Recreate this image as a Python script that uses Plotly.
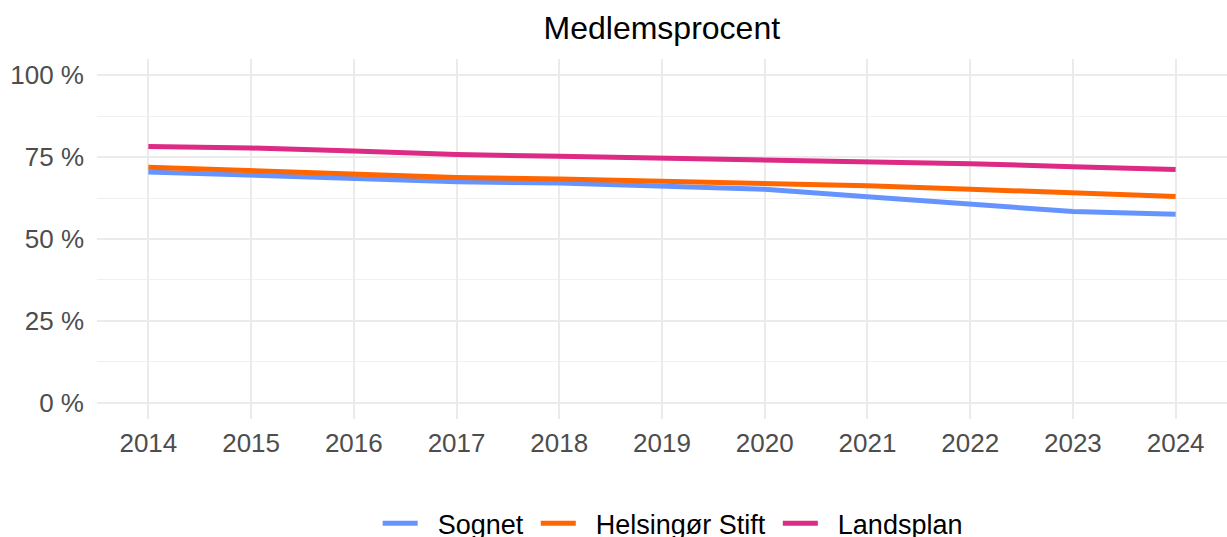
import plotly.graph_objects as go

years = [2014, 2015, 2016, 2017, 2018, 2019, 2020, 2021, 2022, 2023, 2024]
sognet = [70.5, 69.4, 68.5, 67.5, 67.1, 66.0, 65.2, 62.9, 60.6, 58.4, 57.6]
helsingor = [71.9, 70.9, 69.9, 68.8, 68.3, 67.6, 67.0, 66.3, 65.2, 64.2, 63.0]
landsplan = [78.3, 77.8, 76.9, 75.8, 75.3, 74.7, 74.2, 73.7, 73.0, 72.1, 71.2]

series_names = ["Sognet", "Helsingør Stift", "Landsplan"]
series_values = [sognet, helsingor, landsplan]
series_colors = ["#6694FF", "#FF6600", "#DD2A84"]

y_tickvals = [0, 25, 50, 75, 100]
y_ticktext = ["0 %", "25 %", "50 %", "75 %", "100 %"]

font_family = "Liberation Sans, Arial, Helvetica, sans-serif"
NB = "\u00a0"

fig = go.Figure()
for name, vals, col in zip(series_names, series_values, series_colors):
    fig.add_trace(go.Scatter(
        x=years, y=vals, mode="lines", name=NB + NB + name + NB,
        line=dict(color=col, width=5),
    ))

W, H = 1227, 537
left, right_px, top_px, bottom_px = 96.6, 1227.0, 59.4, 418.6

fig.update_layout(
    width=W, height=H,
    paper_bgcolor="white", plot_bgcolor="white",
    margin=dict(l=left, r=0, t=top_px, b=H - bottom_px, autoexpand=False),
    font=dict(family=font_family, size=26, color="#4D4D4D"),
    title=dict(
        text="Medlemsprocent", x=(left + right_px) / 2 / W, xanchor="center",
        y=1 - 28 / H, yanchor="middle", yref="container",
        font=dict(family=font_family, size=32, color="black"),
    ),
    showlegend=True,
    legend=dict(
        orientation="h", x=0.513, xanchor="center",
        y=-(523 - bottom_px) / (bottom_px - top_px), yanchor="middle",
        font=dict(family=font_family, size=27, color="black"),
        bgcolor="rgba(0,0,0,0)",
        itemwidth=35,
    ),
    xaxis=dict(
        range=[2013.5, 2024.5], tickmode="array", tickvals=years,
        ticktext=[str(y) for y in years],
        showgrid=True, gridcolor="#EBEBEB", gridwidth=1.8,
        zeroline=False, showline=False, ticks="",
        ticklabelstandoff=6,
        tickfont=dict(size=26, color="#4D4D4D"),
    ),
    yaxis=dict(
        range=[-5, 105], tickmode="array", tickvals=y_tickvals, ticktext=y_ticktext,
        showgrid=True, gridcolor="#EBEBEB", gridwidth=1.8,
        zeroline=False, showline=False, ticks="",
        ticklabelstandoff=12,
        tickfont=dict(size=26, color="#4D4D4D"),
        minor=dict(tickmode="array", tickvals=[12.5, 37.5, 62.5, 87.5],
                   showgrid=True, gridcolor="#F0F0F0", gridwidth=1),
    ),
)

fig.write_html("out.html", config={"displayModeBar": False},
               post_script="document.body.style.margin='0px';")
